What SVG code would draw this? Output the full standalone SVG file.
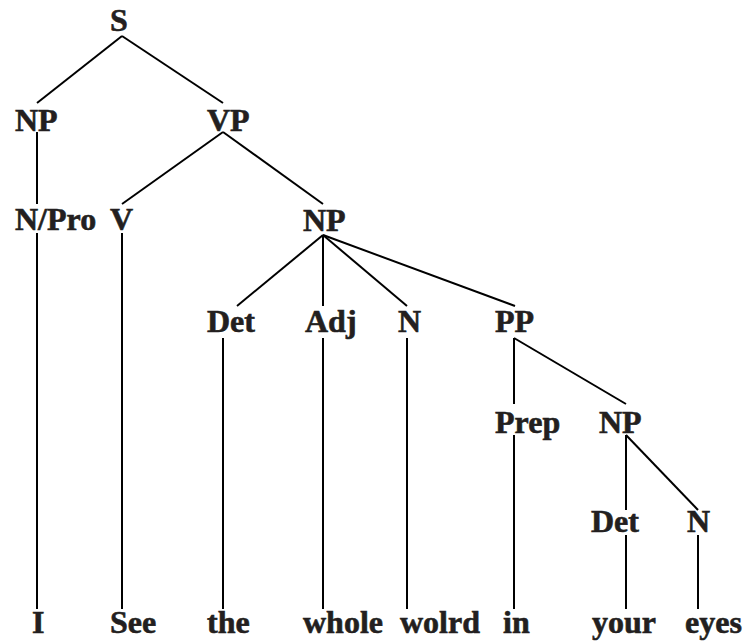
<svg xmlns="http://www.w3.org/2000/svg" width="747" height="643" viewBox="0 0 747 643">
<style>
text{font-family:"Liberation Serif","Times New Roman",serif;font-weight:bold;font-size:32px;fill:#231f20;stroke:#231f20;stroke-width:0.6}
.e line{stroke:#000;stroke-width:2;stroke-linecap:butt}
</style>
<rect width="747" height="643" fill="#fff"/>
<g class="e" id="connectors">
<line x1="122" y1="36" x2="37" y2="103"/>
<line x1="122" y1="36" x2="223" y2="103"/>
<line x1="37" y1="132" x2="37" y2="204"/>
<line x1="37" y1="233" x2="37" y2="609"/>
<line x1="223" y1="132" x2="122" y2="204"/>
<line x1="223" y1="132" x2="323" y2="204"/>
<line x1="122" y1="233" x2="122" y2="609"/>
<line x1="323" y1="235" x2="237" y2="306"/>
<line x1="323" y1="235" x2="323" y2="306"/>
<line x1="323" y1="235" x2="407" y2="306"/>
<line x1="323" y1="235" x2="515" y2="306"/>
<line x1="223" y1="338" x2="223" y2="609"/>
<line x1="323" y1="338" x2="323" y2="609"/>
<line x1="407" y1="338" x2="407" y2="609"/>
<line x1="514" y1="338" x2="514" y2="404"/>
<line x1="514" y1="338" x2="626" y2="404"/>
<line x1="514" y1="435" x2="514" y2="609"/>
<line x1="626" y1="435" x2="626" y2="510"/>
<line x1="626" y1="435" x2="698" y2="510"/>
<line x1="626" y1="535" x2="626" y2="609"/>
<line x1="698" y1="535" x2="698" y2="609"/>
</g>
<g id="n-S"><text x="110" y="31">S</text></g>
<g id="n-NP1"><text x="15" y="131">NP</text></g>
<g id="n-VP"><text x="207" y="131">VP</text></g>
<g id="n-NPro"><text x="15" y="230">N/Pro</text></g>
<g id="n-V"><text x="110" y="230">V</text></g>
<g id="n-NP2"><text x="303" y="231">NP</text></g>
<g id="n-Det1"><text x="207" y="332">Det</text></g>
<g id="n-Adj"><text x="305" y="332">Adj</text></g>
<g id="n-N1"><text x="398" y="332">N</text></g>
<g id="n-PP"><text x="495" y="332">PP</text></g>
<g id="n-Prep"><text x="495" y="433">Prep</text></g>
<g id="n-NP3"><text x="599" y="433">NP</text></g>
<g id="n-Det2"><text x="591" y="532">Det</text></g>
<g id="n-N2"><text x="687" y="532">N</text></g>
<g id="w-I"><text x="32" y="633">I</text></g>
<g id="w-See"><text x="110" y="633">See</text></g>
<g id="w-the"><text x="207" y="633">the</text></g>
<g id="w-whole"><text x="303" y="633">whole</text></g>
<g id="w-wolrd"><text x="400" y="633">wolrd</text></g>
<g id="w-in"><text x="503" y="633">in</text></g>
<g id="w-your"><text x="592" y="633">your</text></g>
<g id="w-eyes"><text x="685" y="633">eyes</text></g>
</svg>
